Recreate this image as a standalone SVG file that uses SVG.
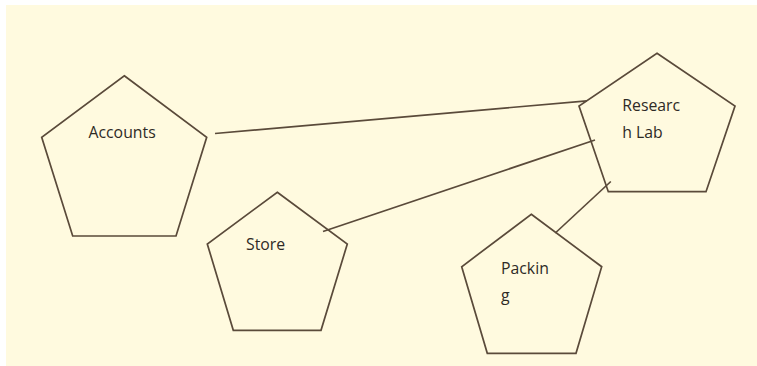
<svg xmlns="http://www.w3.org/2000/svg" width="757" height="366" viewBox="0 0 757 366">
<style>
.shape{fill:none;stroke:#5a4a3a;stroke-width:1.7;stroke-linejoin:miter}
.conn{fill:none;stroke:#5a4a3a;stroke-width:1.7}
.lbl{font-family:"Open Sans","Liberation Sans",sans-serif;font-size:15.8px;fill:#2e2a26}
</style>
<rect x="0" y="0" width="757" height="366" fill="#ffffff"/>
<rect x="6" y="5" width="751" height="361" fill="#fffadf"/>
<g id="connectors">
<line class="conn" x1="215" y1="133.5" x2="587" y2="100.8"/>
<line class="conn" x1="323" y1="231.5" x2="595" y2="140"/>
<line class="conn" x1="555.3" y1="233" x2="610.8" y2="181.5"/>
</g>
<g id="accounts">
<polygon class="shape" points="124.3,75.7 206.7,137.3 176,236 72.7,236 41.7,137.3"/>
<text class="lbl" x="88.5" y="137.5">Accounts</text>
</g>
<g id="store">
<polygon class="shape" points="277.3,192.3 347.3,244 321,330.3 233.3,330.3 207.3,244"/>
<text class="lbl" x="246" y="249.5">Store</text>
</g>
<g id="packing">
<polygon class="shape" points="531.3,214.3 601.7,266.7 576,353.3 487.3,353.3 461.7,266.7"/>
<text class="lbl" x="501" y="273.5">Packin</text>
<text class="lbl" x="501" y="301">g</text>
</g>
<g id="research-lab">
<polygon class="shape" points="657,53.3 735,106 706,191.7 608.3,191.7 579,106"/>
<text class="lbl" x="622.3" y="110.7">Researc</text>
<text class="lbl" x="622.3" y="138.3">h Lab</text>
</g>
</svg>
